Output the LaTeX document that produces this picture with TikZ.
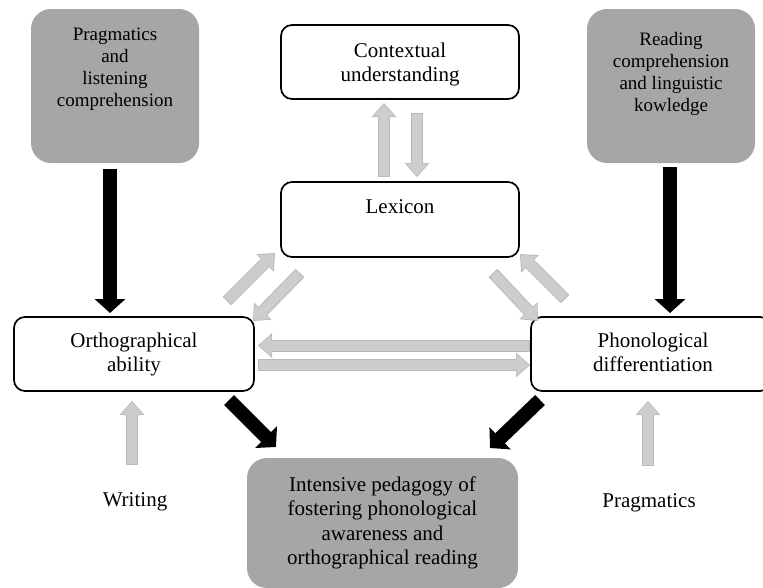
\documentclass[tikz,border=0pt]{standalone}
\usepackage{fontspec}
\setmainfont{Liberation Serif}
\usetikzlibrary{arrows.meta}
\definecolor{boxgray}{RGB}{166,166,166}
\definecolor{gfill}{RGB}{205,205,205}
\definecolor{gedge}{RGB}{184,184,184}
\begin{document}
\begin{tikzpicture}[x=1pt,y=-1pt,
  wbox/.style={draw=black, line width=1.7pt, rounded corners=11pt, fill=white, inner sep=0pt},
  gbox/.style={fill=boxgray, draw=none, rounded corners=20pt, inner sep=0pt},
  btxt/.style={font=\fontsize{21pt}{24.5pt}\selectfont, align=center, inner sep=0pt, anchor=north},
  stxt/.style={font=\fontsize{19pt}{22pt}\selectfont, align=center, inner sep=0pt, anchor=north},
  ptxt/.style={font=\fontsize{21pt}{24.5pt}\selectfont, inner sep=0pt},
  barrow/.style={draw=black, line width=14pt, -{Triangle[length=14pt,width=30pt]}},
  garrow/.style={draw=gfill, line width=10pt, -{Triangle[length=12pt,width=21pt]},
    shorten <=1pt, shorten >=1.3pt,
    preaction={draw=gedge, line width=12pt, -{Triangle[length=14pt,width=24pt]}, shorten <=0pt, shorten >=0pt}}
]
\useasboundingbox (0,0) rectangle (763,587);

% boxes
\node[gbox, minimum width=168pt, minimum height=154pt] (pl) at (115,86) {};
\node[gbox, minimum width=168pt, minimum height=154pt] (rc) at (671,86) {};
\node[wbox, minimum width=238pt, minimum height=74pt] (ctx) at (400,62) {};
\node[wbox, minimum width=238pt, minimum height=75pt] (lex) at (400,219.5) {};
\node[wbox, minimum width=240pt, minimum height=74pt] (orth) at (134,354) {};
\node[wbox, minimum width=240pt, minimum height=74pt] (phon) at (651,354) {};
\node[gbox, minimum width=271pt, minimum height=130pt] (ip) at (382.5,523) {};

% texts
\node[stxt] (plt) at (115,27.5) {Pragmatics\\and\\listening\\comprehension};
\node[stxt] (rct) at (671,32.5) {Reading\\comprehension\\and linguistic\\kowledge};
\node[btxt] (ctxt) at (400,42.5) {Contextual\\understanding};
\node[btxt] (lext) at (400,199.5) {Lexicon};
\node[btxt] (ortht) at (134,332.5) {Orthographical\\ability};
\node[btxt] (phont) at (653,332.5) {Phonological\\differentiation};
\node[btxt] (ipt) at (382.5,476.5) {Intensive pedagogy of\\fostering phonological\\awareness and\\orthographical reading};
\node[ptxt] (wr) at (135,502) {Writing};
\node[ptxt] (pr) at (649,503) {Pragmatics};

% coordinates for free arrow ends
\coordinate (b1s) at (110,169); \coordinate (b1e) at (110,313);
\coordinate (b2s) at (670,167); \coordinate (b2e) at (670,313);
\coordinate (b3s) at (229,400); \coordinate (b3e) at (276,447);
\coordinate (b4s) at (540,400); \coordinate (b4e) at (490,448);

\coordinate (g1s) at (384,177); \coordinate (g1e) at (384,103);
\coordinate (g2s) at (417,113); \coordinate (g2e) at (417,177);
\coordinate (g3s) at (227,301); \coordinate (g3e) at (275,253);
\coordinate (g4s) at (300,273); \coordinate (g4e) at (253,321);
\coordinate (g5s) at (493,273); \coordinate (g5e) at (538,321);
\coordinate (g6s) at (565,299); \coordinate (g6e) at (520,254);
\coordinate (g7s) at (530,345.5); \coordinate (g7e) at (258,345.5);
\coordinate (g8s) at (258,365); \coordinate (g8e) at (530,365);
\coordinate (g9s) at (132,465); \coordinate (g9e) at (132,401);
\coordinate (g10s) at (648,466); \coordinate (g10e) at (648,401);

% black arrows
\draw[barrow] (b1s) -- (b1e);
\draw[barrow] (b2s) -- (b2e);
\draw[barrow] (b3s) -- (b3e);
\draw[barrow] (b4s) -- (b4e);

% gray arrows
\draw[garrow] (g1s) -- (g1e);
\draw[garrow] (g2s) -- (g2e);
\draw[garrow] (g3s) -- (g3e);
\draw[garrow] (g4s) -- (g4e);
\draw[garrow] (g5s) -- (g5e);
\draw[garrow] (g6s) -- (g6e);
\draw[garrow] (g7s) -- (g7e);
\draw[garrow] (g8s) -- (g8e);
\draw[garrow] (g9s) -- (g9e);
\draw[garrow] (g10s) -- (g10e);
\end{tikzpicture}
\end{document}
